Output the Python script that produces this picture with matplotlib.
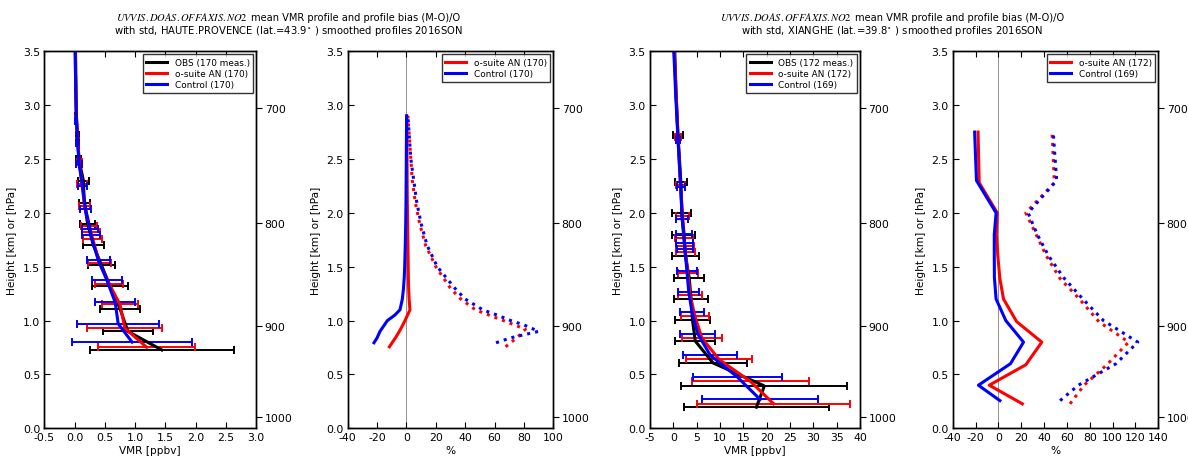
import numpy as np
import matplotlib
matplotlib.use('Agg')
import matplotlib.pyplot as plt

plt.rcParams['font.family'] = 'DejaVu Sans'
plt.rcParams['mathtext.fontset'] = 'stix'

# ---------------- HAUTE.PROVENCE : mean VMR profiles [ppbv] ----------------
hp_obs_h = [0.727, 0.90, 1.11, 1.32, 1.52, 1.70, 1.90, 2.09, 2.30, 2.50, 2.72, 2.90, 3.10, 3.30, 3.50]
hp_obs_mean = [1.44, 0.88, 0.75, 0.585, 0.44, 0.31, 0.215, 0.16, 0.145, 0.07, 0.05, 0.03, 0.025, 0.02, 0.015]
hp_obs_std = [1.19, 0.41, 0.335, 0.295, 0.22, 0.17, 0.125, 0.09, 0.09, 0.04, 0.03, 0.015, 0.0, 0.0, 0.0]

hp_an_h = [0.752, 0.93, 1.15, 1.34, 1.535, 1.757, 1.82, 1.88, 2.067, 2.27, 2.47, 2.67, 2.87, 3.10, 3.30, 3.50]
hp_an_mean = [1.19, 0.83, 0.75, 0.57, 0.41, 0.30, 0.27, 0.24, 0.165, 0.12, 0.08, 0.05, 0.03, 0.02, 0.015, 0.01]
hp_an_std = [0.80, 0.62, 0.29, 0.23, 0.195, 0.158, 0.145, 0.133, 0.095, 0.08, 0.045, 0.03, 0.015, 0.0, 0.0, 0.0]

hp_ctl_h = [0.80, 0.97, 1.17, 1.38, 1.563, 1.79, 1.85, 2.04, 2.25, 2.45, 2.65, 2.85, 3.10, 3.30, 3.50]
hp_ctl_mean = [0.95, 0.72, 0.67, 0.53, 0.39, 0.27, 0.255, 0.18, 0.13, 0.075, 0.05, 0.03, 0.02, 0.015, 0.01]
hp_ctl_std = [0.99, 0.68, 0.33, 0.247, 0.193, 0.15, 0.135, 0.095, 0.075, 0.045, 0.03, 0.015, 0.0, 0.0, 0.0]

# ---------------- HAUTE.PROVENCE : bias (M-O)/O [%] ----------------
hp_bias_an_h = [0.757, 0.85, 0.92, 1.0, 1.1, 1.2, 1.3, 1.4, 1.5, 1.7, 1.9, 2.1, 2.3, 2.5, 2.7, 2.9]
hp_bias_an = [-11.6, -7.0, -4.0, -1.0, 2.4, 1.8, 1.5, 1.3, 1.2, 1.0, 0.8, 0.6, 0.5, 0.4, 0.3, 0.2]
hp_bias_an_std = [67.5, 76, 81, 66, 47, 37, 30, 25, 20, 13, 9, 6, 4, 3, 2, 1]

hp_bias_ctl_h = [0.794, 0.84, 0.90, 0.96, 1.0, 1.05, 1.10, 1.2, 1.3, 1.4, 1.5, 1.7, 1.9, 2.1, 2.3, 2.5, 2.7, 2.9]
hp_bias_ctl = [-22.1, -20, -18, -15, -13, -8, -4.4, -2.8, -2.0, -1.5, -1.2, -0.8, -0.5, -0.3, -0.2, -0.1, 0.0, 0.1]
hp_bias_ctl_std = [61, 71, 90, 80, 71, 62, 52, 40, 33, 27, 21, 14, 10, 7, 5, 3, 2, 1]

# ---------------- XIANGHE : mean VMR profiles [ppbv] ----------------
xh_obs_h = [0.196, 0.393, 0.607, 0.81, 1.006, 1.20, 1.40, 1.597, 1.795, 2.00, 2.29, 2.72, 3.10, 3.50]
xh_obs_mean = [17.8, 19.5, 8.5, 4.7, 4.1, 3.8, 3.4, 2.6, 2.2, 1.8, 1.6, 1.0, 0.6, 0.3]
xh_obs_std = [15.6, 17.8, 7.2, 4.3, 3.7, 3.6, 3.2, 2.9, 2.5, 2.0, 1.3, 1.0, 0.0, 0.0]

xh_an_h = [0.227, 0.436, 0.639, 0.84, 1.044, 1.24, 1.44, 1.64, 1.69, 1.77, 1.975, 2.26, 2.70, 3.10, 3.50]
xh_an_mean = [21.5, 16.5, 9.8, 6.1, 4.6, 3.6, 3.1, 2.6, 2.5, 2.3, 2.0, 1.5, 1.0, 0.6, 0.2]
xh_an_std = [16.4, 12.6, 7.0, 4.3, 3.0, 2.6, 2.2, 2.0, 2.0, 1.95, 1.4, 1.0, 0.6, 0.0, 0.0]

xh_ctl_h = [0.268, 0.477, 0.679, 0.88, 1.078, 1.268, 1.463, 1.66, 1.72, 1.80, 1.94, 2.24, 2.68, 3.10, 3.50]
xh_ctl_mean = [18.6, 13.7, 7.9, 5.2, 4.0, 3.3, 2.9, 2.5, 2.4, 2.3, 1.9, 1.6, 1.0, 0.5, 0.1]
xh_ctl_std = [12.5, 9.5, 5.8, 3.7, 2.6, 2.3, 2.1, 1.8, 1.8, 1.75, 1.3, 0.9, 0.5, 0.0, 0.0]

# ---------------- XIANGHE : bias (M-O)/O [%] ----------------
xh_bias_an_h = [0.227, 0.40, 0.59, 0.80, 0.99, 1.2, 1.39, 1.6, 1.8, 2.0, 2.28, 2.75]
xh_bias_an = [21, -8, 24, 38, 16, 4.5, 1.3, -0.5, -1.8, -1.0, -16.8, -17.8]
xh_bias_an_std = [62.7, 75, 95, 114, 88, 71, 54, 42, 33, 24, 49, 47]

xh_bias_ctl_h = [0.257, 0.40, 0.60, 0.80, 1.0, 1.2, 1.4, 1.6, 1.8, 2.0, 2.30, 2.75]
xh_bias_ctl = [1.3, -17.5, 10.6, 22, 6.5, -2.0, -3.5, -3.6, -3.6, -2.0, -19.2, -20.8]
xh_bias_ctl_std = [54, 70, 103, 122, 92, 74, 57, 44, 34, 26, 51, 48]

# legends / titles
hp_labels = ['OBS (170 meas.)', 'o-suite AN (170)', 'Control (170)']
xh_labels = ['OBS (172 meas.)', 'o-suite AN (172)', 'Control (169)']
title_math = '$UVVIS.DOAS.OFFAXIS.NO2$'
title_rest = 'mean VMR profile and profile bias (M-O)/O'
hp_title2 = r'with std, HAUTE.PROVENCE (lat.=43.9$^\circ$ ) smoothed profiles 2016SON'
xh_title2 = r'with std, XIANGHE (lat.=39.8$^\circ$ ) smoothed profiles 2016SON'

# pressure axis (standard atmosphere)
p_ticks = [700, 800, 900, 1000]
p_surface = 1013.25
scale_height = 8.05

COLORS = ['black', 'red', 'blue']

W, H = 1188, 460
fig = plt.figure(figsize=(W / 100, H / 100), dpi=100)
fig.patch.set_facecolor('white')

ax_bottom = 1 - 429.3 / H
ax_height = 377 / H
panel_x = [(44.3, 256.3), (347.7, 553.3), (650.0, 860.0), (952.7, 1158.3)]
axes = [fig.add_axes([l / W, ax_bottom, (r - l) / W, ax_height]) for l, r in panel_x]

TICK_FS = 7.8
LAB_FS = 7.6


def style_axis(ax, xlim, xstep, xlabel):
    ax.set_xlim(*xlim)
    ax.set_ylim(0, 3.5)
    ax.set_xticks(np.arange(xlim[0], xlim[1] + xstep / 2, xstep))
    ax.set_yticks(np.arange(0, 3.51, 0.5))
    ax.yaxis.set_major_formatter(matplotlib.ticker.FormatStrFormatter('%.1f'))
    if xstep < 1:
        ax.xaxis.set_major_formatter(matplotlib.ticker.FormatStrFormatter('%.1f'))
    else:
        ax.xaxis.set_major_formatter(matplotlib.ticker.FormatStrFormatter('%d'))
    ax.tick_params(direction='in', length=4, width=0.8, top=True, right=False,
                   labelsize=TICK_FS, pad=3)
    ax.set_xlabel(xlabel, fontsize=LAB_FS, labelpad=2)
    ax.set_ylabel('Height [km] or [hPa]', fontsize=LAB_FS, labelpad=4)
    for s in ax.spines.values():
        s.set_linewidth(1.0)
    ax2 = ax.twinx()
    ax2.set_ylim(0, 3.5)
    pt = np.array(p_ticks, dtype=float)
    ax2.set_yticks(scale_height * np.log(p_surface / pt))
    ax2.set_yticklabels([str(p) for p in p_ticks])
    ax2.tick_params(axis='y', direction='out', length=4, width=0.8,
                    labelsize=TICK_FS, pad=2)
    for s in ax2.spines.values():
        s.set_linewidth(1.0)


def make_legend(ax, handles):
    leg = ax.legend(handles=handles, loc='upper right', fontsize=6.4, frameon=True,
                    fancybox=False, edgecolor='black', handlelength=2.4,
                    borderaxespad=0.35, labelspacing=0.25, handletextpad=0.8,
                    borderpad=0.4)
    leg.get_frame().set_linewidth(1.0)
    leg.set_zorder(5)


def vmr_panel(ax, series, labels, xlim, xstep):
    for (h, m, s), c in zip(series, COLORS):
        h = np.asarray(h); m = np.asarray(m); s = np.asarray(s)
        k = s > 0
        ax.errorbar(m[k], h[k], xerr=s[k], fmt='none', ecolor=c, elinewidth=1.4,
                    capsize=3, capthick=1.4, zorder=2)
    handles = []
    for (h, m, s), c, lab in zip(series, COLORS, labels):
        ln, = ax.plot(m, h, color=c, lw=2.2, label=lab, zorder=3)
        handles.append(ln)
    style_axis(ax, xlim, xstep, 'VMR [ppbv]')
    make_legend(ax, handles)


def bias_panel(ax, an, ctl, labels, xlim, xstep):
    ax.axvline(0, color='grey', lw=0.6, zorder=1)
    handles = []
    for (h, b, s), c, lab in zip([an, ctl], ['red', 'blue'], labels):
        ln, = ax.plot(b, h, color=c, lw=2.2, label=lab, zorder=3)
        ax.plot(s, h, color=c, lw=2.2, ls=':', zorder=3)
        handles.append(ln)
    style_axis(ax, xlim, xstep, '%')
    make_legend(ax, handles)


vmr_panel(axes[0], [(hp_obs_h, hp_obs_mean, hp_obs_std),
                    (hp_an_h, hp_an_mean, hp_an_std),
                    (hp_ctl_h, hp_ctl_mean, hp_ctl_std)], hp_labels, (-0.5, 3.0), 0.5)
bias_panel(axes[1], (hp_bias_an_h, hp_bias_an, hp_bias_an_std),
           (hp_bias_ctl_h, hp_bias_ctl, hp_bias_ctl_std), hp_labels[1:], (-40, 100), 20)
vmr_panel(axes[2], [(xh_obs_h, xh_obs_mean, xh_obs_std),
                    (xh_an_h, xh_an_mean, xh_an_std),
                    (xh_ctl_h, xh_ctl_mean, xh_ctl_std)], xh_labels, (-5, 40), 5)
bias_panel(axes[3], (xh_bias_an_h, xh_bias_an, xh_bias_an_std),
           (xh_bias_ctl_h, xh_bias_ctl, xh_bias_ctl_std), xh_labels[1:], (-40, 140), 20)

# titles (first line: italic serif instrument name followed by normal text)
renderer = fig.canvas.get_renderer()
for cx_px, line2 in [(288, hp_title2), (892, xh_title2)]:
    cx = cx_px / W
    y1 = 1 - 21 / H
    t1 = fig.text(0, y1, title_math, fontsize=7.6, ha='left', va='baseline')
    t2 = fig.text(0, y1, title_rest, fontsize=7.15, ha='left', va='baseline')
    w1 = t1.get_window_extent(renderer).width / W
    w2 = t2.get_window_extent(renderer).width / W
    gap = 3.5 / W
    x0 = cx - (w1 + gap + w2) / 2
    t1.set_x(x0)
    t2.set_x(x0 + w1 + gap)
    fig.text(cx, 1 - 31 / H, line2, ha='center', va='center', fontsize=7.2)

fig.savefig('out.png', dpi=100, facecolor='white')
